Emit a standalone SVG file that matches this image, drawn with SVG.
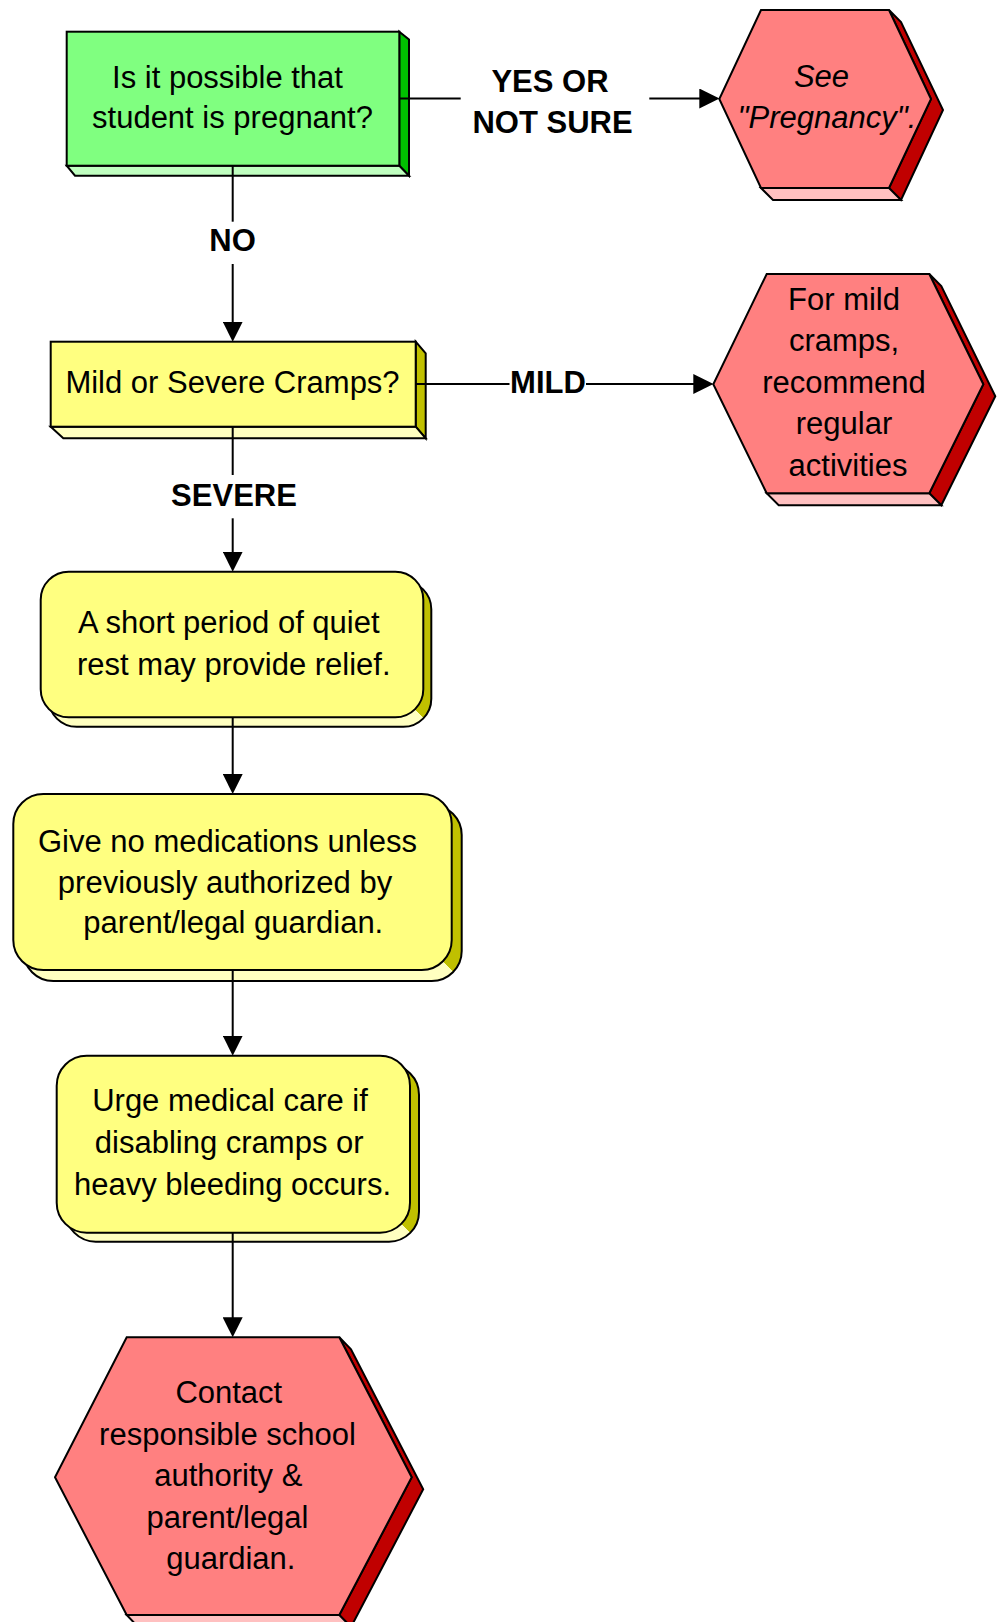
<svg xmlns="http://www.w3.org/2000/svg" width="1003" height="1622" viewBox="0 0 1003 1622">
<style>
  .t { font-family: "Liberation Sans", Arial, Helvetica, sans-serif; font-size: 31px; fill: #000; text-anchor: middle; }
  .i { font-style: italic; }
  .lbl { font-family: "Liberation Sans", Arial, Helvetica, sans-serif; font-size: 31px; font-weight: bold; fill: #000; text-anchor: middle; }
  .o { stroke: #000; stroke-width: 2; stroke-linejoin: miter; }
  .gF { fill: #80FF80; } .gS { fill: #00C000; } .gB { fill: #C0FFC0; }
  .yF { fill: #FFFF80; } .yS { fill: #C0C000; } .yB { fill: #FFFFC0; }
  .rF { fill: #FF8080; } .rS { fill: #C00000; } .rB { fill: #FFC0C0; }
  .ln { stroke: #000; stroke-width: 2; fill: none; }
</style>
<defs>
  <marker id="ah" viewBox="0 0 20 20" refX="10" refY="10" markerWidth="20" markerHeight="20" markerUnits="userSpaceOnUse" orient="auto">
    <path d="M0,0 L20,10 L0,20 Z" fill="#000"/>
  </marker>
  <linearGradient id="g3" gradientUnits="userSpaceOnUse" x1="395" y1="729" x2="435" y2="689">
    <stop offset="0.5" stop-color="#FFFFC0"/><stop offset="0.5" stop-color="#C0C000"/>
  </linearGradient>
  <linearGradient id="g4" gradientUnits="userSpaceOnUse" x1="423" y1="981" x2="463" y2="941">
    <stop offset="0.5" stop-color="#FFFFC0"/><stop offset="0.5" stop-color="#C0C000"/>
  </linearGradient>
  <linearGradient id="g5" gradientUnits="userSpaceOnUse" x1="381" y1="1244" x2="421" y2="1204">
    <stop offset="0.5" stop-color="#FFFFC0"/><stop offset="0.5" stop-color="#C0C000"/>
  </linearGradient>
</defs>
<rect width="1003" height="1622" fill="#FFFFFF"/>

<g id="node-pregnant">
  <polygon class="o gS" points="399.3,31.7 409,39.5 409,175.7 399.3,165.7"/>
  <polygon class="o gB" points="66.7,165.7 399.3,165.7 409,175.7 75,175.7"/>
  <rect class="o gF" x="66.7" y="31.7" width="332.6" height="134"/>
  <text class="t" x="227.5" y="88.3">Is it possible that</text>
  <text class="t" x="232.5" y="128.3">student is pregnant?</text>
</g>

<g id="node-see-pregnancy">
  <polygon class="o rS" points="889,10 901,22 943,110 901,200 889,188 931,99"/>
  <polygon class="o rB" points="761,188 889,188 901,200 773,200"/>
  <polygon class="o rF" points="761,10 889,10 931,99 889,188 761,188 719.3,99"/>
  <text class="t i" x="821.5" y="87.3">See</text>
  <text class="t i" x="827" y="128.3">"Pregnancy".</text>
</g>

<g id="node-cramps">
  <polygon class="o yS" points="415.7,341.7 425.7,353.3 425.7,438.3 415.7,426.7"/>
  <polygon class="o yB" points="50.7,426.7 415.7,426.7 425.7,438.3 63.3,438.3"/>
  <rect class="o yF" x="50.7" y="341.7" width="365" height="85"/>
  <text class="t" x="232.5" y="393.3">Mild or Severe Cramps?</text>
</g>

<g id="node-mild">
  <polygon class="o rS" points="929.3,274 941.3,286 995.3,396.3 941.3,505.3 929.3,493.3 983.3,384.3"/>
  <polygon class="o rB" points="766.7,493.3 929.3,493.3 941.3,505.3 778.7,505.3"/>
  <polygon class="o rF" points="766.7,274 929.3,274 983.3,384.3 929.3,493.3 766.7,493.3 713.3,384.3"/>
  <text class="t" x="844" y="309.5">For mild</text>
  <text class="t" x="844" y="351">cramps,</text>
  <text class="t" x="844" y="392.5">recommend</text>
  <text class="t" x="844" y="434">regular</text>
  <text class="t" x="848" y="475.5">activities</text>
</g>

<g id="node-rest">
  <rect class="o" fill="url(#g3)" x="48.7" y="581.2" width="382.6" height="145.6" rx="28" ry="28"/>
  <rect class="o yF" x="40.7" y="571.7" width="382.6" height="145.6" rx="28" ry="28"/>
  <text class="t" x="228.8" y="633.3">A short period of quiet</text>
  <text class="t" x="233.8" y="675">rest may provide relief.</text>
</g>

<g id="node-medications">
  <rect class="o" fill="url(#g4)" x="23.3" y="805" width="438.4" height="176" rx="30" ry="30"/>
  <rect class="o yF" x="13.3" y="794" width="438.4" height="176" rx="30" ry="30"/>
  <text class="t" x="227.5" y="852">Give no medications unless</text>
  <text class="t" x="225" y="892.5">previously authorized by</text>
  <text class="t" x="233.3" y="933">parent/legal guardian.</text>
</g>

<g id="node-urge">
  <rect class="o" fill="url(#g5)" x="65.7" y="1064.7" width="353.3" height="177" rx="30" ry="30"/>
  <rect class="o yF" x="56.7" y="1055.7" width="353.3" height="177" rx="30" ry="30"/>
  <text class="t" x="230" y="1111">Urge medical care if</text>
  <text class="t" x="229.2" y="1153">disabling cramps or</text>
  <text class="t" x="232.5" y="1195">heavy bleeding occurs.</text>
</g>

<g id="node-contact">
  <polygon class="o rS" points="339.3,1337.3 351,1349.3 423.2,1489.3 351,1627 339.3,1615 411.7,1477.3"/>
  <polygon class="o rB" points="126.7,1615 339.3,1615 351,1627 138.2,1627"/>
  <polygon class="o rF" points="126.7,1337.3 339.3,1337.3 411.7,1477.3 339.3,1615 126.7,1615 55,1477.3"/>
  <text class="t" x="228.8" y="1403">Contact</text>
  <text class="t" x="227.5" y="1444.5">responsible school</text>
  <text class="t" x="228.3" y="1486">authority &amp;</text>
  <text class="t" x="227.5" y="1527.5">parent/legal</text>
  <text class="t" x="230.8" y="1569">guardian.</text>
</g>

<g id="connectors">
  <path class="ln" d="M399.3,98.5 H460.7"/>
  <path class="ln" d="M649.3,98.5 H709.3" marker-end="url(#ah)"/>
  <text class="lbl" x="550" y="91.7">YES OR</text>
  <text class="lbl" x="552.5" y="133.3">NOT SURE</text>

  <path class="ln" d="M232.7,165.7 V221.7"/>
  <path class="ln" d="M232.7,264 V331.7" marker-end="url(#ah)"/>
  <text class="lbl" x="232.5" y="250.7">NO</text>

  <path class="ln" d="M415.7,384 H509.5"/>
  <path class="ln" d="M586,384 H703.3" marker-end="url(#ah)"/>
  <text class="lbl" x="548" y="392.5">MILD</text>

  <path class="ln" d="M232.7,426.7 V475"/>
  <path class="ln" d="M232.7,518.3 V561.7" marker-end="url(#ah)"/>
  <text class="lbl" x="234" y="506">SEVERE</text>

  <path class="ln" d="M232.7,717.3 V784" marker-end="url(#ah)"/>
  <path class="ln" d="M232.7,970 V1045.7" marker-end="url(#ah)"/>
  <path class="ln" d="M232.7,1232.7 V1327.3" marker-end="url(#ah)"/>
</g>
</svg>
